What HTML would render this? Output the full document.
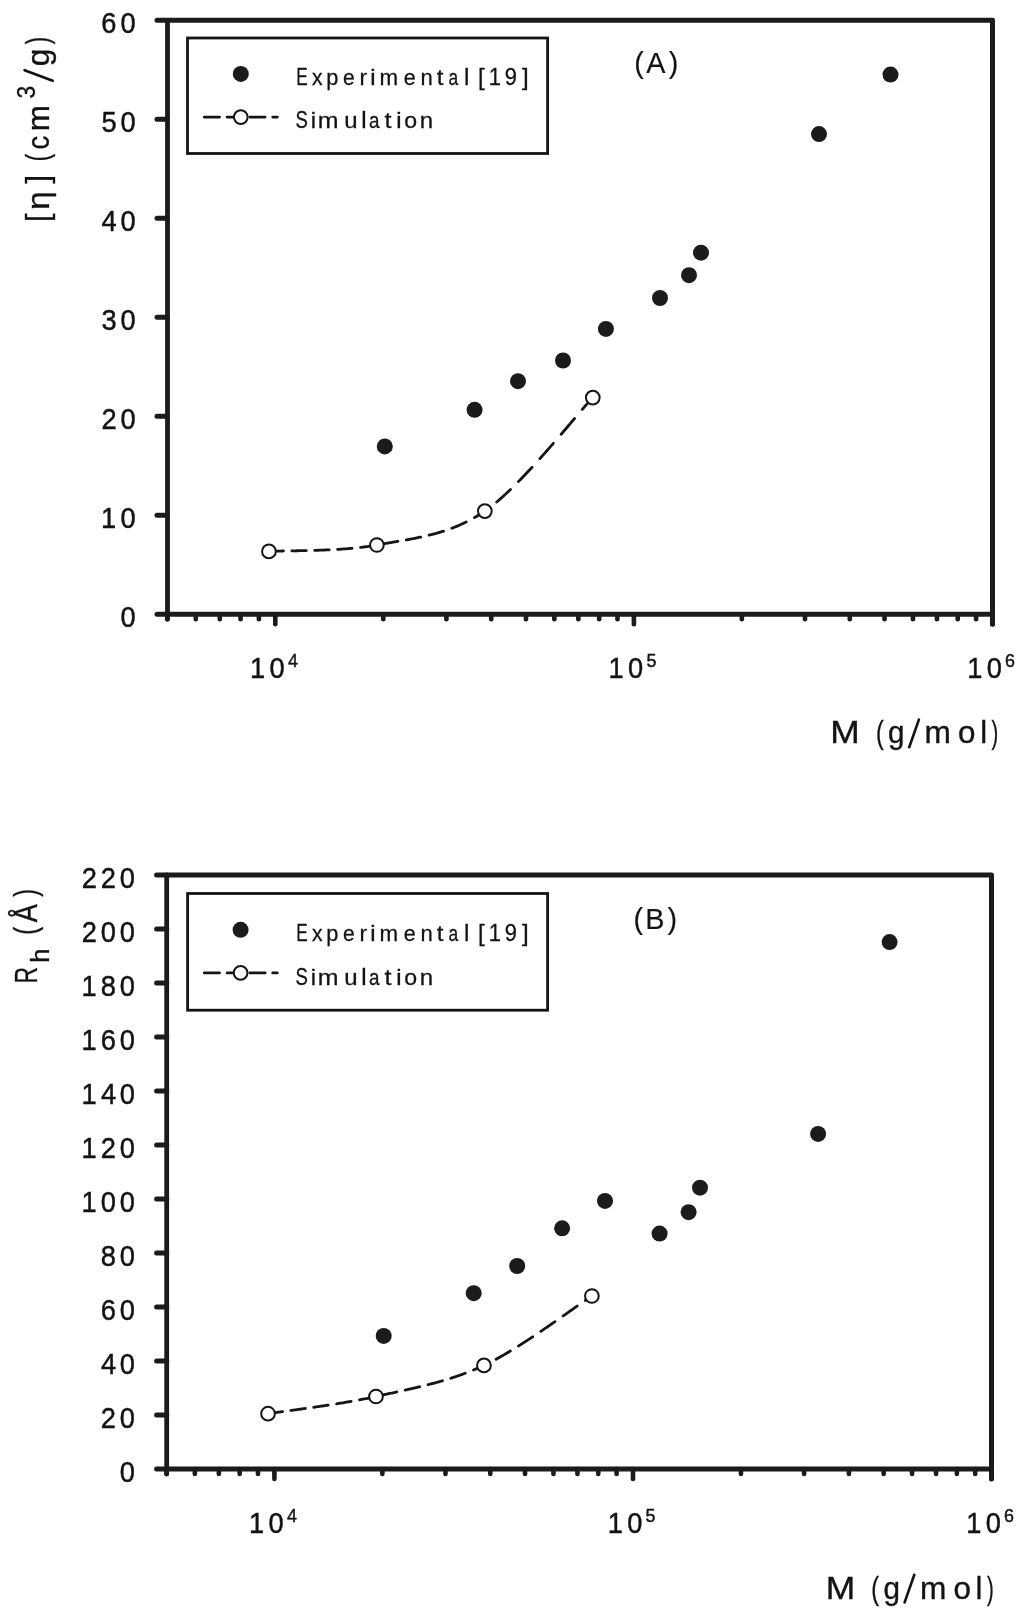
<!DOCTYPE html>
<html><head><meta charset="utf-8"><style>
html,body{margin:0;padding:0;background:#fff;}
svg{display:block;filter:grayscale(1);}
text{font-family:"Liberation Sans", sans-serif;fill:#1e1a1b;font-kerning:none;}
text{fill:#161213;}
.s{stroke:#161213;stroke-width:0.35px;}
.t{stroke:#161213;stroke-width:0.45px;}
.u{stroke:#161213;stroke-width:0.3px;}
.v{stroke:#161213;stroke-width:0.15px;}
</style></head><body>
<svg width="1024" height="1617" viewBox="0 0 1024 1617">
<rect width="1024" height="1617" fill="#fff"/>
<path d="M157,20.3 H992.5 V624.3" fill="none" stroke="#1e1a1b" stroke-width="5" stroke-linejoin="round" stroke-linecap="round"/>
<path d="M167.5,20.3 V619.3" fill="none" stroke="#1e1a1b" stroke-width="4.8" stroke-linecap="round"/>
<path d="M157,614.3 H992.5" fill="none" stroke="#1e1a1b" stroke-width="5" stroke-linecap="round"/>
<line x1="157" y1="515.3" x2="167.5" y2="515.3" stroke="#1e1a1b" stroke-width="5" stroke-linecap="round"/>
<line x1="157" y1="416.3" x2="167.5" y2="416.3" stroke="#1e1a1b" stroke-width="5" stroke-linecap="round"/>
<line x1="157" y1="317.3" x2="167.5" y2="317.3" stroke="#1e1a1b" stroke-width="5" stroke-linecap="round"/>
<line x1="157" y1="218.3" x2="167.5" y2="218.3" stroke="#1e1a1b" stroke-width="5" stroke-linecap="round"/>
<line x1="157" y1="119.3" x2="167.5" y2="119.3" stroke="#1e1a1b" stroke-width="5" stroke-linecap="round"/>
<line x1="167.35" y1="614.3" x2="167.35" y2="619.3" stroke="#1e1a1b" stroke-width="4.6" stroke-linecap="round"/>
<line x1="195.75" y1="614.3" x2="195.75" y2="619.3" stroke="#1e1a1b" stroke-width="4.6" stroke-linecap="round"/>
<line x1="219.75" y1="614.3" x2="219.75" y2="619.3" stroke="#1e1a1b" stroke-width="4.6" stroke-linecap="round"/>
<line x1="240.55" y1="614.3" x2="240.55" y2="619.3" stroke="#1e1a1b" stroke-width="4.6" stroke-linecap="round"/>
<line x1="258.89" y1="614.3" x2="258.89" y2="619.3" stroke="#1e1a1b" stroke-width="4.6" stroke-linecap="round"/>
<line x1="275.3" y1="614.3" x2="275.3" y2="624.3" stroke="#1e1a1b" stroke-width="4.6" stroke-linecap="round"/>
<line x1="383.25" y1="614.3" x2="383.25" y2="619.3" stroke="#1e1a1b" stroke-width="4.6" stroke-linecap="round"/>
<line x1="446.4" y1="614.3" x2="446.4" y2="619.3" stroke="#1e1a1b" stroke-width="4.6" stroke-linecap="round"/>
<line x1="491.2" y1="614.3" x2="491.2" y2="619.3" stroke="#1e1a1b" stroke-width="4.6" stroke-linecap="round"/>
<line x1="525.95" y1="614.3" x2="525.95" y2="619.3" stroke="#1e1a1b" stroke-width="4.6" stroke-linecap="round"/>
<line x1="554.35" y1="614.3" x2="554.35" y2="619.3" stroke="#1e1a1b" stroke-width="4.6" stroke-linecap="round"/>
<line x1="578.35" y1="614.3" x2="578.35" y2="619.3" stroke="#1e1a1b" stroke-width="4.6" stroke-linecap="round"/>
<line x1="599.15" y1="614.3" x2="599.15" y2="619.3" stroke="#1e1a1b" stroke-width="4.6" stroke-linecap="round"/>
<line x1="617.49" y1="614.3" x2="617.49" y2="619.3" stroke="#1e1a1b" stroke-width="4.6" stroke-linecap="round"/>
<line x1="633.9" y1="614.3" x2="633.9" y2="624.3" stroke="#1e1a1b" stroke-width="4.6" stroke-linecap="round"/>
<line x1="741.85" y1="614.3" x2="741.85" y2="619.3" stroke="#1e1a1b" stroke-width="4.6" stroke-linecap="round"/>
<line x1="805" y1="614.3" x2="805" y2="619.3" stroke="#1e1a1b" stroke-width="4.6" stroke-linecap="round"/>
<line x1="849.8" y1="614.3" x2="849.8" y2="619.3" stroke="#1e1a1b" stroke-width="4.6" stroke-linecap="round"/>
<line x1="884.55" y1="614.3" x2="884.55" y2="619.3" stroke="#1e1a1b" stroke-width="4.6" stroke-linecap="round"/>
<line x1="912.95" y1="614.3" x2="912.95" y2="619.3" stroke="#1e1a1b" stroke-width="4.6" stroke-linecap="round"/>
<line x1="936.95" y1="614.3" x2="936.95" y2="619.3" stroke="#1e1a1b" stroke-width="4.6" stroke-linecap="round"/>
<line x1="957.75" y1="614.3" x2="957.75" y2="619.3" stroke="#1e1a1b" stroke-width="4.6" stroke-linecap="round"/>
<line x1="976.09" y1="614.3" x2="976.09" y2="619.3" stroke="#1e1a1b" stroke-width="4.6" stroke-linecap="round"/>
<line x1="992.5" y1="614.3" x2="992.5" y2="624.3" stroke="#1e1a1b" stroke-width="4.6" stroke-linecap="round"/>
<text class="t" transform="translate(128,627) scale(0.940,1.000)" x="-8.06" y="0" font-size="29">0</text>
<text class="t" transform="translate(109,528) scale(0.940,1.000)" x="-8.46" y="0" font-size="29">1</text><text class="t" transform="translate(128,528) scale(0.940,1.000)" x="-8.06" y="0" font-size="29">0</text>
<text class="t" transform="translate(109,429) scale(0.940,1.000)" x="-8.06" y="0" font-size="29">2</text><text class="t" transform="translate(128,429) scale(0.940,1.000)" x="-8.06" y="0" font-size="29">0</text>
<text class="t" transform="translate(109,330) scale(0.940,1.000)" x="-7.98" y="0" font-size="29">3</text><text class="t" transform="translate(128,330) scale(0.940,1.000)" x="-8.06" y="0" font-size="29">0</text>
<text class="t" transform="translate(109,231) scale(0.940,1.000)" x="-7.97" y="0" font-size="29">4</text><text class="t" transform="translate(128,231) scale(0.940,1.000)" x="-8.06" y="0" font-size="29">0</text>
<text class="t" transform="translate(109,132) scale(0.940,1.000)" x="-8.04" y="0" font-size="29">5</text><text class="t" transform="translate(128,132) scale(0.940,1.000)" x="-8.06" y="0" font-size="29">0</text>
<text class="t" transform="translate(109,33) scale(0.940,1.000)" x="-8.16" y="0" font-size="29">6</text><text class="t" transform="translate(128,33) scale(0.940,1.000)" x="-8.06" y="0" font-size="29">0</text>
<text class="t" transform="translate(257.9,678.4) scale(0.940,1.000)" x="-8.46" y="0" font-size="29">1</text><text class="t" transform="translate(277,678.4) scale(0.940,1.000)" x="-8.06" y="0" font-size="29">0</text>
<text class="t" transform="translate(292.8,667.2) scale(0.940,1.000)" x="-5.22" y="0" font-size="19">4</text>
<text class="t" transform="translate(616.5,678.4) scale(0.940,1.000)" x="-8.46" y="0" font-size="29">1</text><text class="t" transform="translate(635.6,678.4) scale(0.940,1.000)" x="-8.06" y="0" font-size="29">0</text>
<text class="t" transform="translate(651.4,667.2) scale(0.940,1.000)" x="-5.26" y="0" font-size="19">5</text>
<text class="t" transform="translate(975.1,678.4) scale(0.940,1.000)" x="-8.46" y="0" font-size="29">1</text><text class="t" transform="translate(994.2,678.4) scale(0.940,1.000)" x="-8.06" y="0" font-size="29">0</text>
<text class="t" transform="translate(1010,667.2) scale(0.940,1.000)" x="-5.35" y="0" font-size="19">6</text>
<text class="s" transform="translate(845,743.3) scale(1.142,1.000)" x="-12.91" y="0" font-size="31">M</text><text class="s" transform="translate(880.5,743.3) scale(0.754,1.000)" x="-6.03" y="0" font-size="31">(</text><text class="s" transform="translate(896,743.3) scale(0.957,1.000)" x="-8.27" y="0" font-size="31">g</text><text class="s" transform="translate(937.7,743.3) scale(1.021,1.000)" x="-12.92" y="0" font-size="31">m</text><text class="s" transform="translate(966.8,743.3) scale(1.011,1.000)" x="-8.62" y="0" font-size="31">o</text><text class="s" transform="translate(983.65,743.3)" x="-3.45" y="0" font-size="31">l</text><text class="s" transform="translate(994.3,743.3) scale(0.650,1.000)" x="-4.29" y="0" font-size="31">)</text><line x1="909.2" y1="747.2" x2="918.9" y2="719.6" stroke="#161213" stroke-width="2.6" stroke-linecap="round"/>
<text class="s" transform="translate(49.1,200.6) rotate(-90) scale(1.075,1.000)" x="-8.42" y="0" font-size="31">η</text><text class="s" transform="translate(49.1,142.3) rotate(-90) scale(0.889,1.000)" x="-8" y="0" font-size="31">c</text><text class="s" transform="translate(49.1,118.3) rotate(-90) scale(1.012,1.000)" x="-12.92" y="0" font-size="31">m</text><text class="s" transform="translate(49.1,57.9) rotate(-90) scale(1.018,1.000)" x="-8.27" y="0" font-size="31">g</text><text class="s" transform="translate(48.3,216.8) rotate(-90)" x="-5.29" y="0" font-size="31">[</text><text class="s" transform="translate(48.3,180.2) rotate(-90)" x="-3.32" y="0" font-size="31">]</text><text class="s" transform="translate(48.3,156.9) rotate(-90) scale(0.710,1.000)" x="-6.03" y="0" font-size="31">(</text><text class="s" transform="translate(48.3,41.05) rotate(-90) scale(0.721,1.000)" x="-4.29" y="0" font-size="31">)</text><text class="s" transform="translate(34.5,92.25) rotate(-90) scale(0.909,1.000)" x="-6.88" y="0" font-size="25">3</text><line x1="24.6" y1="70.2" x2="52.7" y2="80.8" stroke="#161213" stroke-width="2.7" stroke-linecap="round"/>
<rect x="187.5" y="38" width="360.1" height="115.5" fill="none" stroke="#181415" stroke-width="2.8"/>
<circle cx="240.8" cy="73.9" r="8" fill="#1e1a1b"/>
<line x1="204.3" y1="117.1" x2="277.3" y2="117.1" stroke="#181415" stroke-width="2.8" stroke-dasharray="15.2 7.6" stroke-linecap="round"/>
<circle cx="240.8" cy="117.1" r="6.85" fill="#fff" stroke="#181415" stroke-width="2"/>
<text class="u" transform="translate(302.2,84.9) scale(0.717,1.000)" x="-8.47" y="0" font-size="24">E</text><text class="u" transform="translate(317.3,84.9) scale(0.880,0.900)" x="-6.01" y="0" font-size="24">x</text><text class="u" transform="translate(332.5,84.9) scale(0.906,0.900)" x="-6.94" y="0" font-size="24">p</text><text class="u" transform="translate(348.9,84.9) scale(0.871,0.900)" x="-6.65" y="0" font-size="24">e</text><text class="u" transform="translate(363.8,84.9) scale(0.941,0.900)" x="-4.59" y="0" font-size="24">r</text><text class="u" transform="translate(372.9,84.9) scale(1.000,0.900)" x="-2.66" y="0" font-size="24">i</text><text class="u" transform="translate(388.7,84.9) scale(0.931,0.900)" x="-10" y="0" font-size="24">m</text><text class="u" transform="translate(409.8,84.9) scale(0.895,0.900)" x="-6.65" y="0" font-size="24">e</text><text class="u" transform="translate(426.7,84.9) scale(0.919,0.900)" x="-6.69" y="0" font-size="24">n</text><text class="u" transform="translate(440.3,84.9) scale(1.010,0.900)" x="-3.43" y="0" font-size="24">t</text><text class="u" transform="translate(453.7,84.9) scale(0.724,0.900)" x="-7.18" y="0" font-size="24">a</text><text class="u" transform="translate(466.7,84.9)" x="-2.67" y="0" font-size="24">l</text><text class="u" transform="translate(482.2,84.9)" x="-4.1" y="0" font-size="24">[</text><text class="u" transform="translate(495.2,84.9) scale(0.915,1.000)" x="-7" y="0" font-size="24">1</text><text class="u" transform="translate(510.8,84.9) scale(0.909,1.000)" x="-6.67" y="0" font-size="24">9</text><text class="u" transform="translate(524.5,84.9)" x="-2.57" y="0" font-size="24">]</text><text class="u" transform="translate(301.7,128.2) scale(0.773,1.000)" x="-8" y="0" font-size="24">S</text><text class="u" transform="translate(313.3,128.2) scale(1.000,0.900)" x="-2.66" y="0" font-size="24">i</text><text class="u" transform="translate(328.2,128.2) scale(1.039,0.900)" x="-10" y="0" font-size="24">m</text><text class="u" transform="translate(351,128.2) scale(1.000,0.900)" x="-6.66" y="0" font-size="24">u</text><text class="u" transform="translate(363.8,128.2)" x="-2.67" y="0" font-size="24">l</text><text class="u" transform="translate(374.7,128.2) scale(0.785,0.900)" x="-7.18" y="0" font-size="24">a</text><text class="u" transform="translate(388,128.2) scale(1.054,0.900)" x="-3.43" y="0" font-size="24">t</text><text class="u" transform="translate(398.9,128.2) scale(1.000,0.900)" x="-2.66" y="0" font-size="24">i</text><text class="u" transform="translate(410.7,128.2) scale(0.964,0.900)" x="-6.67" y="0" font-size="24">o</text><text class="u" transform="translate(426.4,128.2) scale(1.000,0.900)" x="-6.69" y="0" font-size="24">n</text>
<text x="634.3 646.2 668.71" y="72.9" font-size="28.8" class="v">(A)</text>
<circle cx="384.8" cy="446.4" r="8" fill="#1e1a1b"/>
<circle cx="474.6" cy="409.8" r="8" fill="#1e1a1b"/>
<circle cx="518" cy="381.2" r="8" fill="#1e1a1b"/>
<circle cx="563" cy="360.5" r="8" fill="#1e1a1b"/>
<circle cx="605.9" cy="328.9" r="8" fill="#1e1a1b"/>
<circle cx="660" cy="298" r="8" fill="#1e1a1b"/>
<circle cx="689" cy="275.2" r="8" fill="#1e1a1b"/>
<circle cx="701" cy="252.7" r="8" fill="#1e1a1b"/>
<circle cx="819" cy="134.1" r="8" fill="#1e1a1b"/>
<circle cx="890.5" cy="74.6" r="8" fill="#1e1a1b"/>
<path d="M268.94,551.4 L269.63,551.36 L270.51,551.32 L271.43,551.28 L272.39,551.24 L273.4,551.2 L274.46,551.17 L275.55,551.14 L276.69,551.11 L277.86,551.08 L279.08,551.05 L280.33,551.03 L281.62,551 L282.95,550.98 L283.44,550.97 M291.84,550.84 L292.62,550.83 L293.65,550.81 L294.7,550.8 L295.77,550.78 L296.84,550.76 L297.92,550.74 L299.02,550.72 L300.12,550.7 L301.24,550.68 L302.36,550.66 L303.49,550.64 L304.64,550.61 L305.79,550.59 L306.34,550.58 M314.74,550.36 L315.87,550.33 L317.08,550.29 L318.3,550.25 L319.53,550.21 L320.76,550.17 L321.99,550.12 L323.23,550.07 L324.47,550.02 L325.72,549.97 L326.97,549.92 L328.22,549.86 L329.24,549.81 M337.64,549.36 L338.59,549.31 L339.85,549.23 L341.11,549.14 L342.36,549.06 L343.62,548.97 L344.87,548.88 L346.12,548.78 L347.37,548.68 L348.62,548.58 L349.86,548.48 L351.11,548.37 L352.13,548.28 M360.53,547.41 L361.47,547.3 L362.66,547.16 L363.85,547.01 L365.02,546.86 L366.2,546.7 L367.36,546.54 L368.51,546.38 L369.66,546.21 L370.8,546.04 L371.93,545.86 L373.05,545.68 L374.16,545.49 L375.01,545.34 M383.39,543.83 L384.45,543.64 L385.53,543.45 L386.61,543.27 L387.69,543.08 L388.77,542.9 L389.85,542.71 L390.93,542.53 L392,542.35 L393.08,542.17 L394.16,541.98 L395.24,541.8 L396.32,541.62 L397.4,541.44 L397.87,541.36 M406.25,539.91 L407.12,539.75 L408.2,539.56 L409.28,539.36 L410.36,539.16 L411.44,538.96 L412.52,538.75 L413.59,538.55 L414.67,538.34 L415.75,538.12 L416.83,537.91 L417.91,537.69 L418.99,537.47 L420.07,537.24 L420.72,537.1 M429.09,535.19 L430.06,534.95 L431.14,534.68 L432.22,534.4 L433.3,534.11 L434.37,533.82 L435.45,533.53 L436.53,533.23 L437.61,532.92 L438.69,532.61 L439.77,532.29 L440.85,531.96 L441.93,531.63 L443.01,531.29 L443.52,531.12 M451.86,528.21 L452.73,527.88 L453.81,527.46 L454.89,527.04 L455.96,526.6 L457.04,526.16 L458.12,525.7 L459.2,525.24 L460.28,524.77 L461.36,524.28 L462.44,523.79 L463.52,523.29 L464.6,522.78 L465.68,522.25 L466.19,522 M474.45,517.61 L475.4,517.06 L476.48,516.43 L477.55,515.78 L478.63,515.12 L479.71,514.45 L480.79,513.77 L481.87,513.08 L482.95,512.37 L484.03,511.65 L485.11,510.91 L486.2,510.16 L487.3,509.37 L488.4,508.56 L488.59,508.43 M496.68,501.99 L497.59,501.22 L498.78,500.2 L499.97,499.17 L501.16,498.11 L502.37,497.03 L503.58,495.94 L504.79,494.83 L506.01,493.7 L507.24,492.55 L508.47,491.39 L509.7,490.21 L510.5,489.44 M518.43,481.57 L519.37,480.61 L520.31,479.65 L521.26,478.68 L522.2,477.7 L523.14,476.72 L524.09,475.73 L525.03,474.74 L525.98,473.74 L526.92,472.74 L527.87,471.74 L528.81,470.73 L529.75,469.72 L530.69,468.7 L531.64,467.69 L532.04,467.25 M539.88,458.62 L540.67,457.74 L541.59,456.71 L542.51,455.68 L543.43,454.64 L544.35,453.61 L545.26,452.58 L546.17,451.54 L547.08,450.51 L547.98,449.48 L548.88,448.45 L549.78,447.43 L550.67,446.4 L551.56,445.38 L552.45,444.36 L553.33,443.35 L553.35,443.32 M561.13,434.28 L562.16,433.07 L563.26,431.78 L564.35,430.5 L565.43,429.24 L566.5,427.98 L567.56,426.74 L568.6,425.51 L569.63,424.29 L570.65,423.09 L571.66,421.9 L572.66,420.73 L573.64,419.57 L574.54,418.51 M582.31,409.39 L583.27,408.28 L584.27,407.13 L585.24,406.01 L586.18,404.92 L587.1,403.88 L587.98,402.87 L588.84,401.91 L589.67,400.99 L590.46,400.11 L591.23,399.27 L591.96,398.49 L592.65,397.74 L592.79,397.6" fill="none" stroke="#181415" stroke-width="2.8" stroke-linecap="round" stroke-linejoin="round"/>
<circle cx="268.94" cy="551.4" r="6.85" fill="#fff" stroke="#181415" stroke-width="2"/>
<circle cx="376.89" cy="545" r="6.85" fill="#fff" stroke="#181415" stroke-width="2"/>
<circle cx="484.84" cy="511.1" r="6.85" fill="#fff" stroke="#181415" stroke-width="2"/>
<circle cx="592.79" cy="397.6" r="6.85" fill="#fff" stroke="#181415" stroke-width="2"/>
<path d="M156.6,875 H991.5 V1479" fill="none" stroke="#1e1a1b" stroke-width="5" stroke-linejoin="round" stroke-linecap="round"/>
<path d="M166.7,875 V1474" fill="none" stroke="#1e1a1b" stroke-width="4.8" stroke-linecap="round"/>
<path d="M156.6,1469 H991.5" fill="none" stroke="#1e1a1b" stroke-width="5" stroke-linecap="round"/>
<line x1="156.6" y1="1415" x2="166.7" y2="1415" stroke="#1e1a1b" stroke-width="5" stroke-linecap="round"/>
<line x1="156.6" y1="1361" x2="166.7" y2="1361" stroke="#1e1a1b" stroke-width="5" stroke-linecap="round"/>
<line x1="156.6" y1="1307" x2="166.7" y2="1307" stroke="#1e1a1b" stroke-width="5" stroke-linecap="round"/>
<line x1="156.6" y1="1253" x2="166.7" y2="1253" stroke="#1e1a1b" stroke-width="5" stroke-linecap="round"/>
<line x1="156.6" y1="1199" x2="166.7" y2="1199" stroke="#1e1a1b" stroke-width="5" stroke-linecap="round"/>
<line x1="156.6" y1="1145" x2="166.7" y2="1145" stroke="#1e1a1b" stroke-width="5" stroke-linecap="round"/>
<line x1="156.6" y1="1091" x2="166.7" y2="1091" stroke="#1e1a1b" stroke-width="5" stroke-linecap="round"/>
<line x1="156.6" y1="1037" x2="166.7" y2="1037" stroke="#1e1a1b" stroke-width="5" stroke-linecap="round"/>
<line x1="156.6" y1="983" x2="166.7" y2="983" stroke="#1e1a1b" stroke-width="5" stroke-linecap="round"/>
<line x1="156.6" y1="929" x2="166.7" y2="929" stroke="#1e1a1b" stroke-width="5" stroke-linecap="round"/>
<line x1="166.45" y1="1469" x2="166.45" y2="1474" stroke="#1e1a1b" stroke-width="4.6" stroke-linecap="round"/>
<line x1="194.85" y1="1469" x2="194.85" y2="1474" stroke="#1e1a1b" stroke-width="4.6" stroke-linecap="round"/>
<line x1="218.85" y1="1469" x2="218.85" y2="1474" stroke="#1e1a1b" stroke-width="4.6" stroke-linecap="round"/>
<line x1="239.65" y1="1469" x2="239.65" y2="1474" stroke="#1e1a1b" stroke-width="4.6" stroke-linecap="round"/>
<line x1="257.99" y1="1469" x2="257.99" y2="1474" stroke="#1e1a1b" stroke-width="4.6" stroke-linecap="round"/>
<line x1="274.4" y1="1469" x2="274.4" y2="1479" stroke="#1e1a1b" stroke-width="4.6" stroke-linecap="round"/>
<line x1="382.35" y1="1469" x2="382.35" y2="1474" stroke="#1e1a1b" stroke-width="4.6" stroke-linecap="round"/>
<line x1="445.5" y1="1469" x2="445.5" y2="1474" stroke="#1e1a1b" stroke-width="4.6" stroke-linecap="round"/>
<line x1="490.3" y1="1469" x2="490.3" y2="1474" stroke="#1e1a1b" stroke-width="4.6" stroke-linecap="round"/>
<line x1="525.05" y1="1469" x2="525.05" y2="1474" stroke="#1e1a1b" stroke-width="4.6" stroke-linecap="round"/>
<line x1="553.45" y1="1469" x2="553.45" y2="1474" stroke="#1e1a1b" stroke-width="4.6" stroke-linecap="round"/>
<line x1="577.45" y1="1469" x2="577.45" y2="1474" stroke="#1e1a1b" stroke-width="4.6" stroke-linecap="round"/>
<line x1="598.25" y1="1469" x2="598.25" y2="1474" stroke="#1e1a1b" stroke-width="4.6" stroke-linecap="round"/>
<line x1="616.59" y1="1469" x2="616.59" y2="1474" stroke="#1e1a1b" stroke-width="4.6" stroke-linecap="round"/>
<line x1="633" y1="1469" x2="633" y2="1479" stroke="#1e1a1b" stroke-width="4.6" stroke-linecap="round"/>
<line x1="740.95" y1="1469" x2="740.95" y2="1474" stroke="#1e1a1b" stroke-width="4.6" stroke-linecap="round"/>
<line x1="804.1" y1="1469" x2="804.1" y2="1474" stroke="#1e1a1b" stroke-width="4.6" stroke-linecap="round"/>
<line x1="848.9" y1="1469" x2="848.9" y2="1474" stroke="#1e1a1b" stroke-width="4.6" stroke-linecap="round"/>
<line x1="883.65" y1="1469" x2="883.65" y2="1474" stroke="#1e1a1b" stroke-width="4.6" stroke-linecap="round"/>
<line x1="912.05" y1="1469" x2="912.05" y2="1474" stroke="#1e1a1b" stroke-width="4.6" stroke-linecap="round"/>
<line x1="936.05" y1="1469" x2="936.05" y2="1474" stroke="#1e1a1b" stroke-width="4.6" stroke-linecap="round"/>
<line x1="956.85" y1="1469" x2="956.85" y2="1474" stroke="#1e1a1b" stroke-width="4.6" stroke-linecap="round"/>
<line x1="975.19" y1="1469" x2="975.19" y2="1474" stroke="#1e1a1b" stroke-width="4.6" stroke-linecap="round"/>
<line x1="991.6" y1="1469" x2="991.6" y2="1479" stroke="#1e1a1b" stroke-width="4.6" stroke-linecap="round"/>
<text class="t" transform="translate(127.4,1481.7) scale(0.940,1.000)" x="-8.06" y="0" font-size="29">0</text>
<text class="t" transform="translate(108.4,1427.7) scale(0.940,1.000)" x="-8.06" y="0" font-size="29">2</text><text class="t" transform="translate(127.4,1427.7) scale(0.940,1.000)" x="-8.06" y="0" font-size="29">0</text>
<text class="t" transform="translate(108.4,1373.7) scale(0.940,1.000)" x="-7.97" y="0" font-size="29">4</text><text class="t" transform="translate(127.4,1373.7) scale(0.940,1.000)" x="-8.06" y="0" font-size="29">0</text>
<text class="t" transform="translate(108.4,1319.7) scale(0.940,1.000)" x="-8.16" y="0" font-size="29">6</text><text class="t" transform="translate(127.4,1319.7) scale(0.940,1.000)" x="-8.06" y="0" font-size="29">0</text>
<text class="t" transform="translate(108.4,1265.7) scale(0.940,1.000)" x="-8.06" y="0" font-size="29">8</text><text class="t" transform="translate(127.4,1265.7) scale(0.940,1.000)" x="-8.06" y="0" font-size="29">0</text>
<text class="t" transform="translate(89.4,1211.7) scale(0.940,1.000)" x="-8.46" y="0" font-size="29">1</text><text class="t" transform="translate(108.4,1211.7) scale(0.940,1.000)" x="-8.06" y="0" font-size="29">0</text><text class="t" transform="translate(127.4,1211.7) scale(0.940,1.000)" x="-8.06" y="0" font-size="29">0</text>
<text class="t" transform="translate(89.4,1157.7) scale(0.940,1.000)" x="-8.46" y="0" font-size="29">1</text><text class="t" transform="translate(108.4,1157.7) scale(0.940,1.000)" x="-8.06" y="0" font-size="29">2</text><text class="t" transform="translate(127.4,1157.7) scale(0.940,1.000)" x="-8.06" y="0" font-size="29">0</text>
<text class="t" transform="translate(89.4,1103.7) scale(0.940,1.000)" x="-8.46" y="0" font-size="29">1</text><text class="t" transform="translate(108.4,1103.7) scale(0.940,1.000)" x="-7.97" y="0" font-size="29">4</text><text class="t" transform="translate(127.4,1103.7) scale(0.940,1.000)" x="-8.06" y="0" font-size="29">0</text>
<text class="t" transform="translate(89.4,1049.7) scale(0.940,1.000)" x="-8.46" y="0" font-size="29">1</text><text class="t" transform="translate(108.4,1049.7) scale(0.940,1.000)" x="-8.16" y="0" font-size="29">6</text><text class="t" transform="translate(127.4,1049.7) scale(0.940,1.000)" x="-8.06" y="0" font-size="29">0</text>
<text class="t" transform="translate(89.4,995.7) scale(0.940,1.000)" x="-8.46" y="0" font-size="29">1</text><text class="t" transform="translate(108.4,995.7) scale(0.940,1.000)" x="-8.06" y="0" font-size="29">8</text><text class="t" transform="translate(127.4,995.7) scale(0.940,1.000)" x="-8.06" y="0" font-size="29">0</text>
<text class="t" transform="translate(89.4,941.7) scale(0.940,1.000)" x="-8.06" y="0" font-size="29">2</text><text class="t" transform="translate(108.4,941.7) scale(0.940,1.000)" x="-8.06" y="0" font-size="29">0</text><text class="t" transform="translate(127.4,941.7) scale(0.940,1.000)" x="-8.06" y="0" font-size="29">0</text>
<text class="t" transform="translate(89.4,887.7) scale(0.940,1.000)" x="-8.06" y="0" font-size="29">2</text><text class="t" transform="translate(108.4,887.7) scale(0.940,1.000)" x="-8.06" y="0" font-size="29">2</text><text class="t" transform="translate(127.4,887.7) scale(0.940,1.000)" x="-8.06" y="0" font-size="29">0</text>
<text class="t" transform="translate(257,1533.2) scale(0.940,1.000)" x="-8.46" y="0" font-size="29">1</text><text class="t" transform="translate(276.1,1533.2) scale(0.940,1.000)" x="-8.06" y="0" font-size="29">0</text>
<text class="t" transform="translate(291.9,1522) scale(0.940,1.000)" x="-5.22" y="0" font-size="19">4</text>
<text class="t" transform="translate(615.6,1533.2) scale(0.940,1.000)" x="-8.46" y="0" font-size="29">1</text><text class="t" transform="translate(634.7,1533.2) scale(0.940,1.000)" x="-8.06" y="0" font-size="29">0</text>
<text class="t" transform="translate(650.5,1522) scale(0.940,1.000)" x="-5.26" y="0" font-size="19">5</text>
<text class="t" transform="translate(974.2,1533.2) scale(0.940,1.000)" x="-8.46" y="0" font-size="29">1</text><text class="t" transform="translate(993.3,1533.2) scale(0.940,1.000)" x="-8.06" y="0" font-size="29">0</text>
<text class="t" transform="translate(1009.1,1522) scale(0.940,1.000)" x="-5.35" y="0" font-size="19">6</text>
<text class="s" transform="translate(840.4,1598.5) scale(1.142,1.000)" x="-12.91" y="0" font-size="31">M</text><text class="s" transform="translate(875.9,1598.5) scale(0.754,1.000)" x="-6.03" y="0" font-size="31">(</text><text class="s" transform="translate(891.4,1598.5) scale(0.957,1.000)" x="-8.27" y="0" font-size="31">g</text><text class="s" transform="translate(933.1,1598.5) scale(1.021,1.000)" x="-12.92" y="0" font-size="31">m</text><text class="s" transform="translate(962.2,1598.5) scale(1.011,1.000)" x="-8.62" y="0" font-size="31">o</text><text class="s" transform="translate(979.05,1598.5)" x="-3.45" y="0" font-size="31">l</text><text class="s" transform="translate(989.7,1598.5) scale(0.650,1.000)" x="-4.29" y="0" font-size="31">)</text><line x1="904.6" y1="1602.4" x2="914.3" y2="1574.8" stroke="#161213" stroke-width="2.6" stroke-linecap="round"/>
<text class="s" transform="translate(37.1,974.9) rotate(-90) scale(0.728,1.000)" x="-11.94" y="0" font-size="31.5">R</text><text class="s" transform="translate(37.1,913.15) rotate(-90) scale(0.862,1.060)" x="-10.51" y="0" font-size="31.5">Å</text><text class="s" transform="translate(36.2,930.3) rotate(-90) scale(0.743,1.000)" x="-6.13" y="0" font-size="31.5">(</text><text class="s" transform="translate(36.2,893.6) rotate(-90) scale(0.743,1.000)" x="-4.36" y="0" font-size="31.5">)</text><text class="s" transform="translate(48.8,955.55) rotate(-90)" x="-7.15" y="0" font-size="25.5">h</text>
<rect x="187.6" y="893.5" width="360" height="116.7" fill="none" stroke="#181415" stroke-width="2.8"/>
<circle cx="240.6" cy="929.8" r="8" fill="#1e1a1b"/>
<line x1="204.3" y1="972.9" x2="277.3" y2="972.9" stroke="#181415" stroke-width="2.8" stroke-dasharray="15.2 7.6" stroke-linecap="round"/>
<circle cx="240.6" cy="972.9" r="6.85" fill="#fff" stroke="#181415" stroke-width="2"/>
<text class="u" transform="translate(302.2,941.2) scale(0.717,1.000)" x="-8.47" y="0" font-size="24">E</text><text class="u" transform="translate(317.3,941.2) scale(0.880,0.900)" x="-6.01" y="0" font-size="24">x</text><text class="u" transform="translate(332.5,941.2) scale(0.906,0.900)" x="-6.94" y="0" font-size="24">p</text><text class="u" transform="translate(348.9,941.2) scale(0.871,0.900)" x="-6.65" y="0" font-size="24">e</text><text class="u" transform="translate(363.8,941.2) scale(0.941,0.900)" x="-4.59" y="0" font-size="24">r</text><text class="u" transform="translate(372.9,941.2) scale(1.000,0.900)" x="-2.66" y="0" font-size="24">i</text><text class="u" transform="translate(388.7,941.2) scale(0.931,0.900)" x="-10" y="0" font-size="24">m</text><text class="u" transform="translate(409.8,941.2) scale(0.895,0.900)" x="-6.65" y="0" font-size="24">e</text><text class="u" transform="translate(426.7,941.2) scale(0.919,0.900)" x="-6.69" y="0" font-size="24">n</text><text class="u" transform="translate(440.3,941.2) scale(1.010,0.900)" x="-3.43" y="0" font-size="24">t</text><text class="u" transform="translate(453.7,941.2) scale(0.724,0.900)" x="-7.18" y="0" font-size="24">a</text><text class="u" transform="translate(466.7,941.2)" x="-2.67" y="0" font-size="24">l</text><text class="u" transform="translate(482.2,941.2)" x="-4.1" y="0" font-size="24">[</text><text class="u" transform="translate(495.2,941.2) scale(0.915,1.000)" x="-7" y="0" font-size="24">1</text><text class="u" transform="translate(510.8,941.2) scale(0.909,1.000)" x="-6.67" y="0" font-size="24">9</text><text class="u" transform="translate(524.5,941.2)" x="-2.57" y="0" font-size="24">]</text><text class="u" transform="translate(301.7,984.5) scale(0.773,1.000)" x="-8" y="0" font-size="24">S</text><text class="u" transform="translate(313.3,984.5) scale(1.000,0.900)" x="-2.66" y="0" font-size="24">i</text><text class="u" transform="translate(328.2,984.5) scale(1.039,0.900)" x="-10" y="0" font-size="24">m</text><text class="u" transform="translate(351,984.5) scale(1.000,0.900)" x="-6.66" y="0" font-size="24">u</text><text class="u" transform="translate(363.8,984.5)" x="-2.67" y="0" font-size="24">l</text><text class="u" transform="translate(374.7,984.5) scale(0.785,0.900)" x="-7.18" y="0" font-size="24">a</text><text class="u" transform="translate(388,984.5) scale(1.054,0.900)" x="-3.43" y="0" font-size="24">t</text><text class="u" transform="translate(398.9,984.5) scale(1.000,0.900)" x="-2.66" y="0" font-size="24">i</text><text class="u" transform="translate(410.7,984.5) scale(0.964,0.900)" x="-6.67" y="0" font-size="24">o</text><text class="u" transform="translate(426.4,984.5) scale(1.000,0.900)" x="-6.69" y="0" font-size="24">n</text>
<text x="633.5 645.17 667.61" y="929.4" font-size="28.8" class="v">(B)</text>
<circle cx="383.7" cy="1335.9" r="8" fill="#1e1a1b"/>
<circle cx="473.7" cy="1293.2" r="8" fill="#1e1a1b"/>
<circle cx="517.2" cy="1266" r="8" fill="#1e1a1b"/>
<circle cx="562.1" cy="1228.3" r="8" fill="#1e1a1b"/>
<circle cx="605" cy="1200.9" r="8" fill="#1e1a1b"/>
<circle cx="659.6" cy="1233.6" r="8" fill="#1e1a1b"/>
<circle cx="688.6" cy="1212.2" r="8" fill="#1e1a1b"/>
<circle cx="700" cy="1187.7" r="8" fill="#1e1a1b"/>
<circle cx="818.1" cy="1133.9" r="8" fill="#1e1a1b"/>
<circle cx="889.6" cy="942.1" r="8" fill="#1e1a1b"/>
<path d="M268.04,1413.7 L268.73,1413.59 L269.61,1413.46 L270.53,1413.32 L271.49,1413.17 L272.5,1413.02 L273.56,1412.87 L274.65,1412.71 L275.79,1412.55 L276.96,1412.38 L278.18,1412.21 L279.43,1412.04 L280.72,1411.86 L282.05,1411.68 L282.52,1411.61 M290.91,1410.46 L291.72,1410.35 L292.75,1410.21 L293.8,1410.06 L294.87,1409.92 L295.94,1409.77 L297.02,1409.62 L298.12,1409.47 L299.22,1409.31 L300.34,1409.16 L301.46,1409 L302.59,1408.85 L303.74,1408.69 L304.89,1408.52 L305.4,1408.45 M313.79,1407.26 L314.97,1407.09 L316.18,1406.91 L317.4,1406.73 L318.63,1406.55 L319.86,1406.37 L321.09,1406.19 L322.33,1406.01 L323.57,1405.82 L324.82,1405.63 L326.07,1405.44 L327.32,1405.25 L328.27,1405.11 M336.65,1403.8 L337.69,1403.63 L338.95,1403.43 L340.21,1403.22 L341.46,1403.02 L342.72,1402.81 L343.97,1402.6 L345.22,1402.39 L346.47,1402.18 L347.72,1401.97 L348.96,1401.75 L350.21,1401.54 L351.13,1401.38 M359.51,1399.86 L360.57,1399.66 L361.76,1399.43 L362.95,1399.2 L364.12,1398.98 L365.3,1398.75 L366.46,1398.51 L367.61,1398.28 L368.76,1398.05 L369.9,1397.81 L371.03,1397.58 L372.15,1397.34 L373.26,1397.1 L373.98,1396.94 M382.35,1395.09 L383.28,1394.89 L384.36,1394.65 L385.44,1394.42 L386.52,1394.18 L387.6,1393.95 L388.68,1393.72 L389.76,1393.48 L390.83,1393.25 L391.91,1393.01 L392.99,1392.78 L394.07,1392.54 L395.15,1392.31 L396.23,1392.08 L396.81,1391.95 M405.19,1390.11 L406.22,1389.88 L407.3,1389.64 L408.38,1389.4 L409.46,1389.15 L410.54,1388.91 L411.62,1388.66 L412.69,1388.42 L413.77,1388.17 L414.85,1387.92 L415.93,1387.67 L417.01,1387.41 L418.09,1387.16 L419.17,1386.9 L419.64,1386.79 M428.01,1384.72 L428.89,1384.49 L429.97,1384.21 L431.05,1383.93 L432.13,1383.65 L433.2,1383.36 L434.28,1383.07 L435.36,1382.78 L436.44,1382.48 L437.52,1382.18 L438.6,1381.88 L439.68,1381.57 L440.76,1381.26 L441.84,1380.95 L442.44,1380.78 M450.79,1378.23 L451.83,1377.9 L452.91,1377.55 L453.99,1377.19 L455.06,1376.83 L456.14,1376.47 L457.22,1376.1 L458.3,1375.73 L459.38,1375.35 L460.46,1374.97 L461.54,1374.59 L462.62,1374.2 L463.7,1373.8 L464.78,1373.4 L465.19,1373.25 M473.51,1369.97 L474.5,1369.57 L475.58,1369.11 L476.65,1368.65 L477.73,1368.19 L478.81,1367.72 L479.89,1367.24 L480.97,1366.76 L482.05,1366.27 L483.13,1365.78 L484.21,1365.27 L485.3,1364.76 L486.4,1364.23 L487.5,1363.69 L487.83,1363.53 M496.1,1359.22 L496.99,1358.74 L498.17,1358.08 L499.37,1357.42 L500.56,1356.74 L501.77,1356.06 L502.98,1355.36 L504.2,1354.66 L505.42,1353.95 L506.64,1353.22 L507.87,1352.49 L509.11,1351.76 L510.31,1351.03 M518.52,1345.97 L519.41,1345.41 L520.36,1344.81 L521.3,1344.21 L522.24,1343.61 L523.19,1343 L524.13,1342.4 L525.08,1341.79 L526.02,1341.18 L526.97,1340.57 L527.91,1339.95 L528.85,1339.34 L529.79,1338.72 L530.74,1338.1 L531.68,1337.48 L532.62,1336.86 L532.66,1336.83 M540.84,1331.35 L541.92,1330.62 L543.14,1329.79 L544.36,1328.96 L545.57,1328.14 L546.78,1327.31 L547.98,1326.48 L549.18,1325.66 L550.36,1324.84 L551.55,1324.03 L552.72,1323.22 L553.89,1322.41 L554.94,1321.67 M563.1,1315.97 L563.99,1315.35 L565.07,1314.59 L566.13,1313.85 L567.18,1313.11 L568.22,1312.38 L569.24,1311.66 L570.26,1310.94 L571.26,1310.24 L572.25,1309.54 L573.22,1308.85 L574.18,1308.18 L575.13,1307.51 L576.06,1306.86 L576.98,1306.21 L577.18,1306.07 M585.34,1300.39 L585.83,1300.05 L586.38,1299.68 L586.91,1299.32 L587.43,1298.96 L587.94,1298.61 L588.44,1298.28 L588.93,1297.95 L589.41,1297.63 L589.87,1297.32 L590.33,1297.02 L590.77,1296.73 L591.2,1296.45 L591.62,1296.18 L591.89,1296" fill="none" stroke="#181415" stroke-width="2.8" stroke-linecap="round" stroke-linejoin="round"/>
<circle cx="268.04" cy="1413.7" r="6.85" fill="#fff" stroke="#181415" stroke-width="2"/>
<circle cx="375.99" cy="1396.5" r="6.85" fill="#fff" stroke="#181415" stroke-width="2"/>
<circle cx="483.94" cy="1365.4" r="6.85" fill="#fff" stroke="#181415" stroke-width="2"/>
<circle cx="591.89" cy="1296" r="6.85" fill="#fff" stroke="#181415" stroke-width="2"/>
</svg>
</body></html>
